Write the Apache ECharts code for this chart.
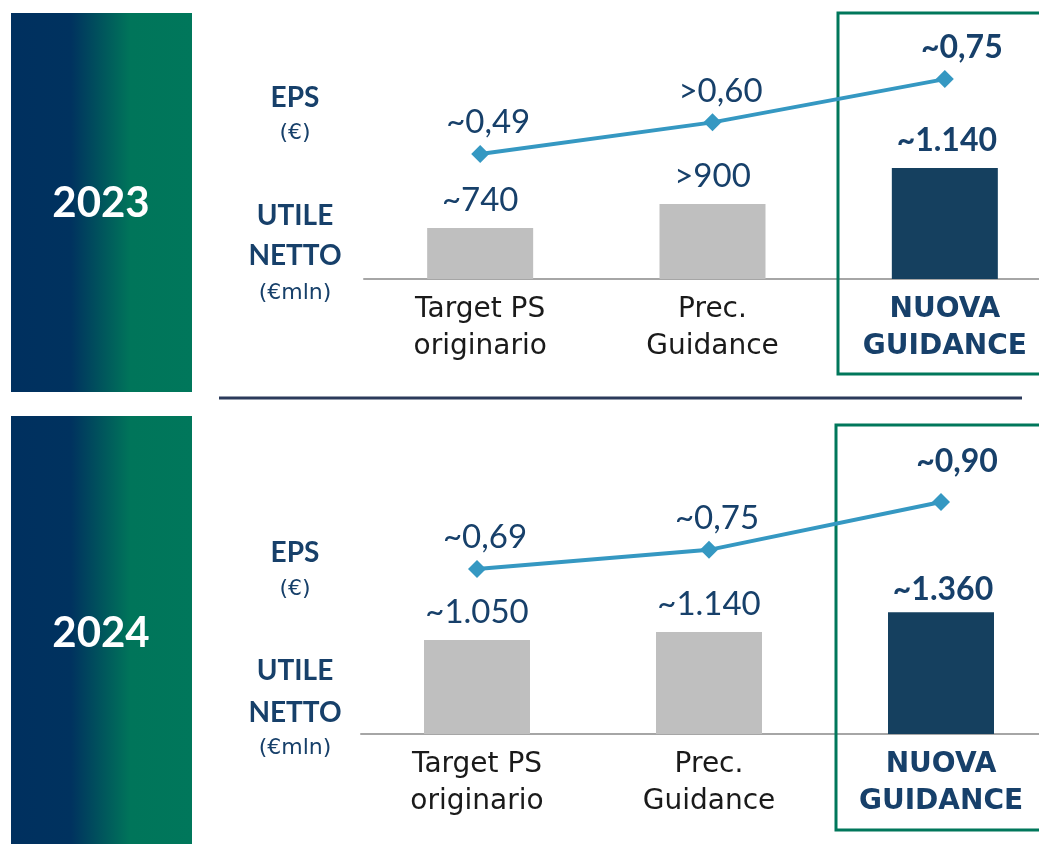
<!DOCTYPE html>
<html>
<head>
<meta charset="utf-8">
<script src="https://cdn.jsdelivr.net/npm/echarts@6/dist/echarts.min.js"></script>
<style>
  html, body { margin: 0; padding: 0; background: #fff; overflow: hidden; }
  /* più largo della finestra: l'ultima colonna esce dal bordo destro come nell'originale */
  #chart { width: 1080px; height: 844px; }
</style>
</head>
<body>
<div id="chart"></div>
<script>
const categories = ['Target PS\noriginario', 'Prec.\nGuidance', 'NUOVA\nGUIDANCE']

const eps2023 = [0.49, 0.60, 0.75]
const epsLabels2023 = ['~0,49', '>0,60', '~0,75']
const utile2023 = [740, 900, 1140]
const utileLabels2023 = ['~740', '>900', '~1.140']

const eps2024 = [0.69, 0.75, 0.90]
const epsLabels2024 = ['~0,69', '~0,75', '~0,90']
const utile2024 = [1050, 1140, 1360]
const utileLabels2024 = ['~1.050', '~1.140', '~1.360']

const FONT = 'Lato, "Open Sans", sans-serif'
const WIDE = '"DejaVu Sans", sans-serif'
const NAVY = '#15405f'
const TEXT_NAVY = '#17406a'
const GRAY = '#bfbfbf'
const LINE_BLUE = '#3598c2'
const GREEN = '#00775b'
const HL = 2 // colonna evidenziata

const chart = echarts.init(document.getElementById('chart'))

const catAxis = (gridIndex) => ({
  type: 'category',
  gridIndex,
  data: categories.map((c, i) => i === HL
    ? { value: c, textStyle: { fontWeight: 'bold', color: TEXT_NAVY } }
    : c),
  axisLine: { lineStyle: { color: '#a6a6a6', width: 2 } },
  axisTick: { show: false },
  axisLabel: {
    fontFamily: WIDE,
    fontSize: 28,
    lineHeight: 37,
    color: '#1a1a1a',
    margin: 12,
    interval: 0
  }
})

const valAxis = (gridIndex, min, max) => ({
  type: 'value',
  gridIndex,
  min,
  max,
  show: false,
  splitLine: { show: false }
})

const barSeries = (axisIdx, values, labels, hlOffset) => ({
  type: 'bar',
  xAxisIndex: axisIdx,
  yAxisIndex: axisIdx * 2,
  barWidth: 106,
  clip: true,
  data: values.map((v, i) => ({
    value: v,
    itemStyle: { color: i === HL ? NAVY : GRAY },
    label: i === HL ? { fontWeight: 'bold', fontSize: 32, offset: hlOffset } : {}
  })),
  label: {
    show: true,
    position: 'top',
    distance: 11,
    fontFamily: FONT,
    fontSize: 33,
    color: TEXT_NAVY,
    formatter: (p) => labels[p.dataIndex]
  },
  z: 2
})

const lineSeries = (axisIdx, values, labels, hlOffset) => ({
  type: 'line',
  xAxisIndex: axisIdx,
  yAxisIndex: axisIdx * 2 + 1,
  symbol: 'diamond',
  symbolSize: 18,
  lineStyle: { color: LINE_BLUE, width: 4 },
  itemStyle: { color: LINE_BLUE },
  data: values.map((v, i) => ({
    value: v,
    label: i === HL
      ? { fontWeight: 'bold', fontSize: 32, offset: hlOffset }
      : { offset: [8, 0] }
  })),
  label: {
    show: true,
    position: 'top',
    distance: 6,
    fontFamily: FONT,
    fontSize: 33,
    color: TEXT_NAVY,
    formatter: (p) => labels[p.dataIndex]
  },
  z: 4
})

// decorazioni: riquadri anno, etichette a sinistra, box verde, separatore
const sideGradient = () => new echarts.graphic.LinearGradient(0, 0, 1, 0, [
  { offset: 0, color: '#00305f' },
  { offset: 0.33, color: '#00325f' },
  { offset: 0.66, color: '#00755a' },
  { offset: 1, color: '#00775b' }
])

const txt = (x, y, text, size, bold, color, family) => ({
  type: 'text',
  x, y,
  style: {
    text,
    fontFamily: family || FONT,
    fontSize: size,
    fontWeight: bold ? 'bold' : 'normal',
    fill: color || TEXT_NAVY,
    align: 'center',
    verticalAlign: 'middle'
  }
})

const panelDecor = (top, h, yearY, yearText, labY) => [
  { type: 'rect', shape: { x: 11, y: top, width: 181, height: h }, style: { fill: sideGradient() } },
  txt(101, yearY, yearText, 42, true, '#ffffff'),
  txt(295, labY[0], 'EPS', 28, true),
  txt(295, labY[1], '(€)', 22, false, null, WIDE),
  txt(295, labY[2], 'UTILE', 28, true),
  txt(295, labY[3], 'NETTO', 28, true),
  txt(295, labY[4], '(€mln)', 22, false, null, WIDE)
]

const option = {
  animation: false,
  backgroundColor: '#ffffff',
  grid: [
    { left: 364, width: 697, top: 24, height: 255 },
    { left: 361, width: 696, top: 479, height: 255 }
  ],
  xAxis: [catAxis(0), catAxis(1)],
  yAxis: [
    valAxis(0, 400, 2100),
    valAxis(0, 0.057, 0.941),
    valAxis(1, 0, 2850),
    valAxis(1, 0.173, 0.972)
  ],
  series: [
    barSeries(0, utile2023, utileLabels2023, [2, 0]),
    lineSeries(0, eps2023, epsLabels2023, [17, 0]),
    barSeries(1, utile2024, utileLabels2024, [2, 4]),
    lineSeries(1, eps2024, epsLabels2024, [16, -9])
  ],
  graphic: [
    ...panelDecor(13, 379, 203, '2023', [98, 133, 216, 256, 293]),
    ...panelDecor(416, 428, 633, '2024', [553, 589, 671, 713, 748]),
    { type: 'line', shape: { x1: 219, y1: 398, x2: 1022, y2: 398 }, style: { stroke: '#2b3a5b', lineWidth: 3 } },
    { type: 'rect', shape: { x: 838, y: 13, width: 210, height: 361 }, style: { fill: 'none', stroke: GREEN, lineWidth: 3 }, z: 1 },
    { type: 'rect', shape: { x: 836, y: 425, width: 212, height: 405 }, style: { fill: 'none', stroke: GREEN, lineWidth: 3 }, z: 1 }
  ]
}

chart.setOption(option)
</script>
</body>
</html>
